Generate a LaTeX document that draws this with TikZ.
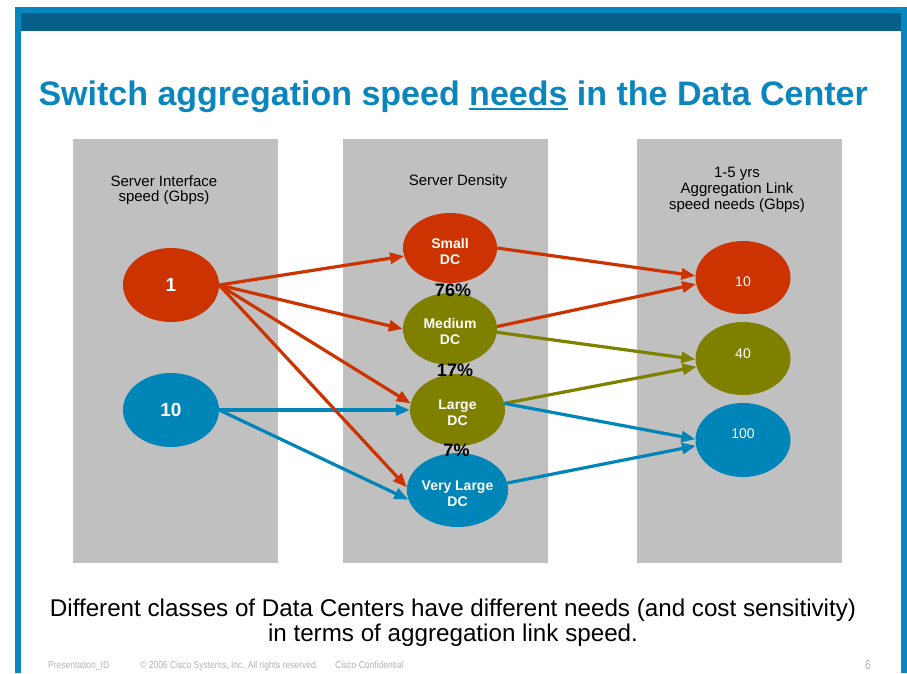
\documentclass[tikz,border=0pt]{standalone}
\usepackage{fontspec}
\setmainfont{Liberation Sans}
\usetikzlibrary{shapes.geometric,arrows.meta}
\definecolor{cred}{HTML}{CC3300}
\definecolor{colive}{HTML}{808000}
\definecolor{cblue}{HTML}{0085B8}
\definecolor{frameblue}{HTML}{0787BF}
\definecolor{darkband}{HTML}{055F86}
\definecolor{titleblue}{HTML}{0A85BD}
\definecolor{panelgray}{HTML}{C0C0C0}
\definecolor{footgray}{HTML}{B4B4B4}
\newcommand{\downstrut}{\rule{0pt}{17pt}}
\tikzset{
  ell/.style={ellipse, inner sep=0pt, text=white, align=center,
    font=\fontsize{14}{15.7}\selectfont\bfseries},
  panelbox/.style={fill=panelgray, draw=none},
  hdr/.style={inner sep=0pt, align=center, anchor=base,
    font=\fontsize{15}{15.7}\selectfont},
  pct/.style={inner sep=0pt, anchor=base, font=\fontsize{18}{18}\selectfont\bfseries},
  arr/.style={line width=3.2pt, -{Triangle[length=14pt,width=11pt]}},
  foot/.style={inner sep=0pt, anchor=base west, text=footgray,
    font=\fontsize{10}{10}\selectfont}
}
\begin{document}
\begin{tikzpicture}[x=1pt,y=-1pt]
\useasboundingbox (0,0) rectangle (907,673);
\fill[white] (0,0) rectangle (907,673);
% frame
\fill[frameblue] (15,7) rectangle (907,13);
\fill[frameblue] (15,7) rectangle (21,673);
\fill[frameblue] (901,7) rectangle (907,673);
\fill[darkband] (21,13) rectangle (901,31);
% title
\node[inner sep=0pt, anchor=base west, text=titleblue,
  font=\fontsize{34}{34}\selectfont\bfseries] (title) at (38.3,105)
  {Switch aggregation speed \setbox0\hbox{needs}\rlap{\rule[-5pt]{\wd0}{2.3pt}}\box0{} in the Data Center};
% panels
\fill[panelbox] (72.5,138.5) rectangle (277.5,563);
\fill[panelbox] (343.3,138.5) rectangle (548.3,563);
\fill[panelbox] (636.7,138.5) rectangle (842.3,563);
% headers (anchor = baseline of last line)
\node[hdr] (h1) at (164,201.7) {Server Interface\\speed (Gbps)};
\node[hdr] (h2) at (458,185.5) {Server Density};
\node[hdr] (h3) at (737,209) {1-5 yrs\\Aggregation Link\\speed needs (Gbps)};
% ellipses
\node[ell, fill=cred, minimum width=96pt, minimum height=74pt,
  font=\fontsize{19}{19}\selectfont\bfseries] (one) at (171,285) {1};
\node[ell, fill=cblue, minimum width=96pt, minimum height=74pt,
  font=\fontsize{19}{19}\selectfont\bfseries] (ten) at (171,410) {10};
\node[ell, fill=cred, minimum width=94pt, minimum height=70pt] (small) at (450,248) {\downstrut Small\\DC};
\node[ell, fill=colive, minimum width=94pt, minimum height=72pt] (medium) at (450,329) {\rule{0pt}{15pt}Medium\\DC};
\node[ell, fill=colive, minimum width=95pt, minimum height=72pt] (large) at (457.5,410) {\rule{0pt}{15pt}Large\\DC};
\node[ell, fill=cblue, minimum width=95pt, minimum height=74pt] (vlarge) at (457.5,490) {\downstrut Very Large\\DC};
\node[ell, fill=cred, minimum width=95pt, minimum height=73pt,
  font=\fontsize{14}{14}\selectfont] (rten) at (743,277.5) {\rule{0pt}{17.5pt}10};
\node[ell, fill=colive, minimum width=95pt, minimum height=73pt,
  font=\fontsize{14}{14}\selectfont] (rforty) at (743,358.5) {\rule[-9pt]{0pt}{0pt}40};
\node[ell, fill=cblue, minimum width=95pt, minimum height=74pt,
  font=\fontsize{14}{14}\selectfont] (rhundred) at (743,440) {\rule[-12pt]{0pt}{0pt}100};
% arrows left
\draw[arr, cblue] (ten.east) -- (large.west);
\draw[arr, cblue] (ten.east) -- (vlarge.191);
\draw[arr, cred] (one.east) -- (small.190);
\draw[arr, cred] (one.east) -- (medium.180);
\draw[arr, cred] (one.east) -- (large.172);
\draw[arr, cred] (one.east) -- (vlarge.177);
% arrows right
\draw[arr, cred] (small.east) -- (rten.178);
\draw[arr, cred] (medium.3) -- (rten.188);
\draw[arr, colive] (medium.356) -- (rforty.181);
\draw[arr, colive] (large.8) -- (rforty.190);
\draw[arr, cblue] (large.8) -- (rhundred.179);
\draw[arr, cblue] (vlarge.8) -- (rhundred.187);
% percentages
\node[pct] (p76) at (453,296.7) {76\%};
\node[pct] (p17) at (455,376.7) {17\%};
\node[pct] (p7) at (456.5,456.7) {7\%};
% bottom text (anchor = baseline of last line)
\node[inner sep=0pt, align=center, anchor=base, font=\fontsize{24.2}{25}\selectfont] (caption) at (453,641)
  {Different classes of Data Centers have different needs (and cost sensitivity)\\in terms of aggregation link speed.};
% footer
\node[foot] (f1) at (48,668) {\scalebox{0.85}[1]{Presentation\_ID}};
\node[foot] (f2) at (140,668) {\scalebox{0.85}[1]{\textcopyright{} 2006 Cisco Systems, Inc. All rights reserved.}};
\node[foot] (f3) at (335,668) {\scalebox{0.85}[1]{Cisco Confidential}};
\node[inner sep=0pt, anchor=base west, text=footgray, font=\fontsize{13}{13}\selectfont] (pg) at (865,669) {\scalebox{0.8}[1]{6}};
\end{tikzpicture}
\end{document}
